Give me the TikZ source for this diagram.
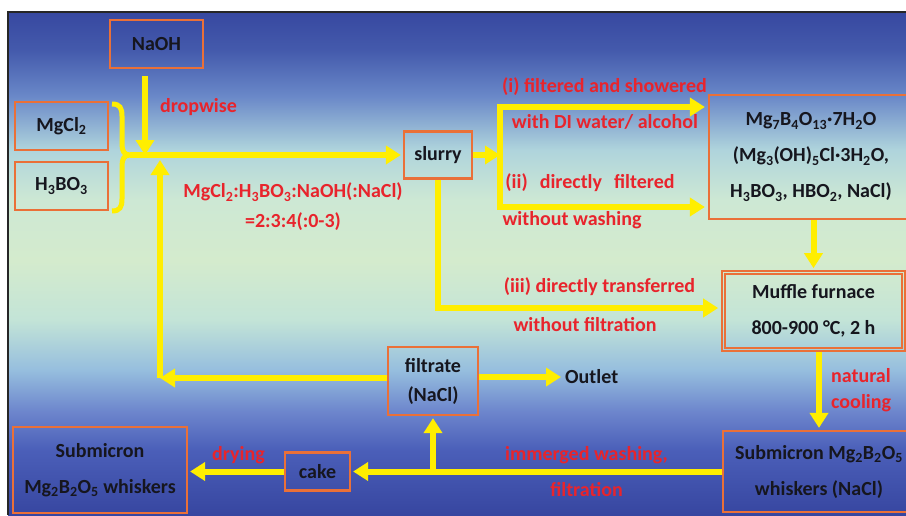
\documentclass[tikz,border=0pt]{standalone}
\usepackage{fontspec}
\setmainfont{Carlito}
\usetikzlibrary{arrows.meta,calc}

\definecolor{flowyellow}{RGB}{255,238,0}
\definecolor{boxorange}{RGB}{234,112,56}
\definecolor{notered}{RGB}{232,36,44}
\definecolor{inktext}{RGB}{22,22,30}
% panel background, bottom to top
\definecolor{shA}{RGB}{55,70,160}
\definecolor{shB}{RGB}{75,95,185}
\definecolor{shC}{RGB}{110,135,205}
\definecolor{shD}{RGB}{150,190,222}
\definecolor{shE}{RGB}{195,228,215}
\definecolor{shF}{RGB}{212,235,205}
\definecolor{shG}{RGB}{205,232,212}
\definecolor{shH}{RGB}{175,212,220}
\definecolor{shI}{RGB}{105,135,200}
\definecolor{shJ}{RGB}{68,90,172}
\definecolor{shK}{RGB}{55,72,160}

\pgfdeclareverticalshading{panelshade}{100bp}{color(0bp)=(shA); color(25bp)=(shA);
  color(31.5bp)=(shB); color(35.4bp)=(shC); color(39.4bp)=(shD); color(44.4bp)=(shE);
  color(50.3bp)=(shF); color(56.3bp)=(shG); color(61.3bp)=(shH); color(66.7bp)=(shI);
  color(71.2bp)=(shJ); color(75bp)=(shK); color(100bp)=(shK)}

\begin{document}
\begin{tikzpicture}[x=1pt,y=-1pt,
  box/.style={draw=boxorange,line width=2.2pt,inner sep=0pt,text=inktext,
    font=\bfseries\fontsize{20}{36}\selectfont,align=center},
  flow/.style={draw=flowyellow,line width=6pt},
  arrowflow/.style={flow,-{Triangle[width=18pt,length=15pt]}},
  twoway/.style={flow,{Triangle[width=18pt,length=15pt]}-{Triangle[width=18pt,length=15pt]}},
  note/.style={text=notered,inner sep=0pt,font=\bfseries\fontsize{20}{24}\selectfont},
  plain/.style={text=inktext,inner sep=0pt,font=\bfseries\fontsize{20}{24}\selectfont},
]
\useasboundingbox (0,0) rectangle (906,515);
\fill[white] (0,0) rectangle (906,515);
\shade[shading=panelshade] (8,12) rectangle (906,515);
\draw[line width=1.6pt,black!85] (8,515) -- (8,12) -- (906,12);

% boxes
\node[box,minimum width=93pt,minimum height=48pt] (naoh) at (156.5,44) {NaOH};
\node[box,minimum width=93pt,minimum height=48pt] (mgcl) at (61.5,126) {MgCl\textsubscript{2}};
\node[box,minimum width=93pt,minimum height=48pt] (hbo) at (61.5,186) {H\textsubscript{3}BO\textsubscript{3}};
\node[box,minimum width=68pt,minimum height=47pt] (slurry) at (438,155) {slurry};
\node[box,minimum width=204pt,minimum height=124pt] (prod) at (811,157)
  {Mg\textsubscript{7}B\textsubscript{4}O\textsubscript{13}·7H\textsubscript{2}O\\
   (Mg\textsubscript{3}(OH)\textsubscript{5}Cl·3H\textsubscript{2}O,\\
   H\textsubscript{3}BO\textsubscript{3}, HBO\textsubscript{2}, NaCl)};
\node[box,line width=1.6pt,minimum width=183pt,minimum height=80pt] (muffle) at (813.5,311)
  {Muffle furnace\\800-900 °C, 2 h};
\draw[boxorange,line width=1.6pt] ([shift={(4pt,-4pt)}]muffle.north west)
  rectangle ([shift={(-4pt,4pt)}]muffle.south east);
\node[box,minimum width=192pt,minimum height=81pt] (whiskna) at (819,471.5)
  {Submicron Mg\textsubscript{2}B\textsubscript{2}O\textsubscript{5}\\whiskers (NaCl)};
\node[box,minimum width=90pt,minimum height=68pt,font=\bfseries\fontsize{20}{29}\selectfont]
  (filtrate) at (433,381) {filtrate\\(NaCl)};
\node[box,minimum width=65pt,minimum height=38pt] (cake) at (317.5,471.5) {cake};
\node[box,minimum width=174pt,minimum height=86pt] (whisk) at (100,470)
  {Submicron\\Mg\textsubscript{2}B\textsubscript{2}O\textsubscript{5} whiskers};
\node[plain,anchor=west] (outlet) at (565,377) {Outlet};

% red process notes
\node[note] at (198.5,107) {dropwise};
\node[note,align=center,font=\bfseries\fontsize{20}{30}\selectfont] at (293,207)
  {MgCl\textsubscript{2}:H\textsubscript{3}BO\textsubscript{3}:NaOH(:NaCl)\\=2:3:4(:0-3)};
\node[note] at (604.5,87) {(i) filtered and showered};
\node[note] at (605,122) {with DI water/ alcohol};
\node[note] at (590,183) {(ii)\hspace{0.6em}directly\hspace{0.6em}filtered};
\node[note] at (572,220) {without washing};
\node[note] at (599.5,287) {(iii) directly transferred};
\node[note] at (585,325) {without filtration};
\node[note,anchor=west] at (831,376) {natural};
\node[note,anchor=west] at (831,403) {cooling};
\node[note] at (586.5,455) {immerged washing,};
\node[note] at (586.5,490) {filtration};
\node[note] at (238.5,455) {drying};

% junction points
\coordinate (bracetip) at (130,155);
\coordinate (drop) at (145,155);
\coordinate (retcorner) at (160,378);
\coordinate (rettop) at (160,160);
\coordinate (split) at (500,155);
\coordinate (bi) at (500,107);
\coordinate (bii) at (500,207);
\coordinate (bend) at (438,308);

% bracket joining the two solids
\draw[flow,line width=5pt] (112,104) .. controls (120,104) and (122,108) .. (122,116)
  -- (122,144) .. controls (122,151) and (124,155) .. (bracetip)
  .. controls (124,155) and (122,159) .. (122,166)
  -- (122,199) .. controls (122,207) and (120,211) .. (112,211);

% connectors
\draw[arrowflow,shorten >=2pt] (bracetip) -- (slurry.west);
\draw[arrowflow] ([xshift=-11.5pt,yshift=-7pt]naoh.south) -- (drop);
\draw[arrowflow] (filtrate.west |- retcorner) -- (retcorner);
\draw[arrowflow] (retcorner) -- (rettop);
\draw[arrowflow,shorten >=4pt] (filtrate.east |- outlet.west) -- (outlet.west);
\draw[arrowflow] (slurry.east) -- (split);
\draw[twoway,shorten >=3pt,shorten <=3pt] (bi -| prod.west) -- (bi) -- (bii) -- (bii -| prod.west);
\draw[arrowflow,shorten >=2pt] (prod.south -| muffle.north) -- (muffle.north);
\draw[arrowflow,shorten >=3pt] (slurry.south) -- (bend) -- (bend -| muffle.west);
\draw[arrowflow,shorten >=2pt] (muffle.south -| whiskna.north) -- (whiskna.north);
\draw[arrowflow,shorten >=2pt] (whiskna.west) -- (whiskna.west -| cake.east);
\draw[arrowflow,shorten >=2pt] (filtrate.south |- whiskna.west) -- (filtrate.south);
\draw[arrowflow,shorten >=2pt] (cake.west) -- (cake.west -| whisk.east);
\end{tikzpicture}
\end{document}
